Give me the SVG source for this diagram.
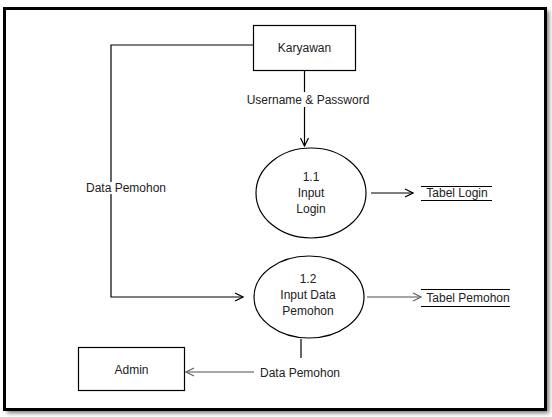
<svg xmlns="http://www.w3.org/2000/svg" width="552" height="417" viewBox="0 0 552 417">
<defs>
<style>
.t{font-family:"Liberation Sans",Arial,sans-serif;font-size:12px;fill:#222;text-anchor:middle}
.box{fill:#fff;stroke:#000;stroke-width:1.2}
.ln{fill:none;stroke:#000;stroke-width:1.2}
.gl{fill:none;stroke:#888;stroke-width:1.5}
</style>
<marker id="ah" markerWidth="10" markerHeight="10" refX="9" refY="5" orient="auto" markerUnits="userSpaceOnUse">
<path d="M1,1 L9,5 L1,9" fill="none" stroke="#000" stroke-width="1.2"/>
</marker>
<marker id="ahg" markerWidth="10" markerHeight="10" refX="9" refY="5" orient="auto" markerUnits="userSpaceOnUse">
<path d="M1,1 L9,5 L1,9" fill="none" stroke="#666" stroke-width="1.3"/>
</marker>
<filter id="sh" x="-5%" y="-5%" width="110%" height="110%"><feGaussianBlur stdDeviation="2"/></filter>
</defs>
<rect width="552" height="417" fill="#fff"/>
<rect x="7" y="11" width="542" height="402" fill="#777" filter="url(#sh)"/>
<rect x="4.5" y="8.5" width="541" height="401" fill="#fff" stroke="#000" stroke-width="3"/>

<g id="connectors">
<path class="ln" d="M253,45 H111 V182"/>
<path class="ln" d="M111,194 V297 H243" marker-end="url(#ah)"/>
<path class="ln" d="M304.5,70 V92"/>
<path class="ln" d="M304.5,107 V146" marker-end="url(#ah)"/>
<path class="ln" d="M371,193 H413" marker-end="url(#ah)"/>
<path class="gl" d="M367,297 H421" marker-end="url(#ahg)"/>
<path class="ln" d="M301,339 V358"/>
<path class="gl" d="M254,372 H186" marker-end="url(#ahg)"/>
<text class="t" x="308" y="104">Username &amp; Password</text>
<text class="t" x="126" y="192">Data Pemohon</text>
<text class="t" x="300" y="377">Data Pemohon</text>
</g>

<g id="karyawan">
<rect class="box" x="253.5" y="25.5" width="102" height="45"/>
<text class="t" x="304.5" y="52">Karyawan</text>
</g>

<g id="p11">
<ellipse class="box" cx="311" cy="193" rx="55" ry="45"/>
<text class="t" x="311" y="181">1.1</text>
<text class="t" x="311" y="197">Input</text>
<text class="t" x="311" y="213">Login</text>
</g>

<g id="p12">
<ellipse class="box" cx="309" cy="297" rx="55" ry="41"/>
<text class="t" x="308" y="283">1.2</text>
<text class="t" x="308" y="299">Input Data</text>
<text class="t" x="308" y="315">Pemohon</text>
</g>

<g id="tabel-login">
<path class="ln" d="M421,186.5 H492 M421,200.5 H492"/>
<text class="t" x="457" y="197">Tabel Login</text>
</g>

<g id="tabel-pemohon">
<path class="ln" d="M421,289.5 H510 M421,306.5 H510"/>
<text class="t" x="468" y="302">Tabel Pemohon</text>
</g>

<g id="admin">
<rect class="box" x="78.5" y="347.5" width="106" height="43"/>
<text class="t" x="131.5" y="374">Admin</text>
</g>
</svg>
